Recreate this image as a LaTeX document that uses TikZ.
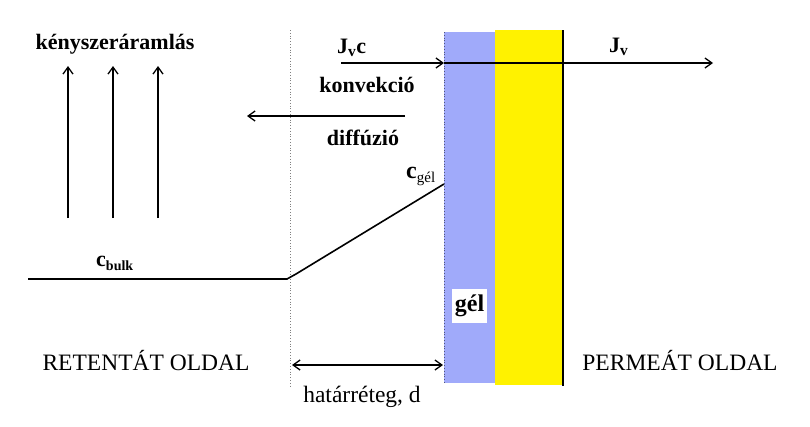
\documentclass[tikz,border=0pt]{standalone}
\usepackage{fontspec}
\setmainfont{Liberation Serif}
\usetikzlibrary{arrows.meta}
\definecolor{gelblue}{RGB}{160,170,250}
\begin{document}
\begin{tikzpicture}[x=1pt,y=-1pt,
  blbl/.style={font=\fontsize{22}{24}\selectfont\bfseries, inner sep=0pt},
  rlbl/.style={font=\fontsize{23.5}{26}\selectfont, inner sep=0pt},
  barb/.tip={Straight Barb[length=7pt,width=10pt,line width=1.3pt]},
  flow/.style={line width=1.6pt, -barb},
  dotline/.style={dotted, gray, line width=0.8pt}]
\useasboundingbox[fill=white] (0,0) rectangle (810,426);
% layers
\fill[gelblue] (444,32) rectangle (495,383);
\fill[yellow] (495,30) rectangle (563,385);
\coordinate (memtop) at (563,30);
\coordinate (membot) at (563,386);
\draw[line width=1.6pt] (memtop) -- (membot);
% dotted boundaries
\coordinate (bltop) at (290,30);
\coordinate (blbot) at (290,388);
\draw[dotline] (bltop) -- (blbot);
\coordinate (geltop) at (444,32);
\coordinate (gelbot) at (444,383);
\draw[dotline, draw=gelblue!50!black] (geltop) -- (gelbot);
% forced flow arrows
\foreach \x/\n in {68/a,113/b,158/c}{
  \coordinate (up\n s) at (\x,218);
  \coordinate (up\n e) at (\x,66);
  \draw[flow] (up\n s) -- (up\n e);
}
\node[blbl, anchor=base] (kenysz) at (115,49) {kényszeráramlás};
% convection
\coordinate (jvcs) at (341,63);
\coordinate (jvcm) at (444,63);
\coordinate (jve) at (713,63);
\draw[flow] (jvcs) -- (jvcm);
\draw[flow] (jvcm) -- (jve);
\node[blbl, anchor=base west] (jvc) at (337,53) {J\textsubscript{v}c};
\node[blbl, anchor=base west] (jv) at (609,52) {J\textsubscript{v}};
\node[blbl, anchor=base] (konv) at (367,92) {konvekció};
% diffusion
\coordinate (difs) at (405,116);
\coordinate (dife) at (247,116);
\draw[flow] (difs) -- (dife);
\node[blbl, anchor=base] (diff) at (363,145) {diffúzió};
% concentration profile
\coordinate (p0) at (28,279);
\coordinate (p1) at (287,279);
\coordinate (p2) at (296,274);
\coordinate (p3) at (444,184);
\draw[line width=1.6pt] (p0) -- (p1) -- (p2) -- (p3);
\node[anchor=base west, inner sep=0pt] (cgel) at (406,178)
  {\fontsize{24}{26}\selectfont\bfseries c\fontsize{15}{16}\selectfont\mdseries\raisebox{-4pt}{gél}};
\node[anchor=base west, inner sep=0pt] (cbulk) at (96,266)
  {\fontsize{22}{24}\selectfont\bfseries c\fontsize{14}{16}\selectfont\raisebox{-4pt}{bulk}};
% gel label
\node[font=\fontsize{24}{26}\selectfont\bfseries, fill=white, minimum width=35pt, minimum height=34pt, inner sep=0pt] (gel) at (469.5,306) {gél};
% side labels
\node[rlbl, anchor=base] (ret) at (146,370) {RETENTÁT OLDAL};
\node[rlbl, anchor=base] (perm) at (680,370) {PERMEÁT OLDAL};
% boundary layer thickness
\coordinate (ds) at (292,365);
\coordinate (de) at (443,365);
\draw[line width=1.6pt, barb-barb] (ds) -- (de);
\node[rlbl, anchor=base] (hat) at (362,402) {határréteg, d};
\end{tikzpicture}
\end{document}
